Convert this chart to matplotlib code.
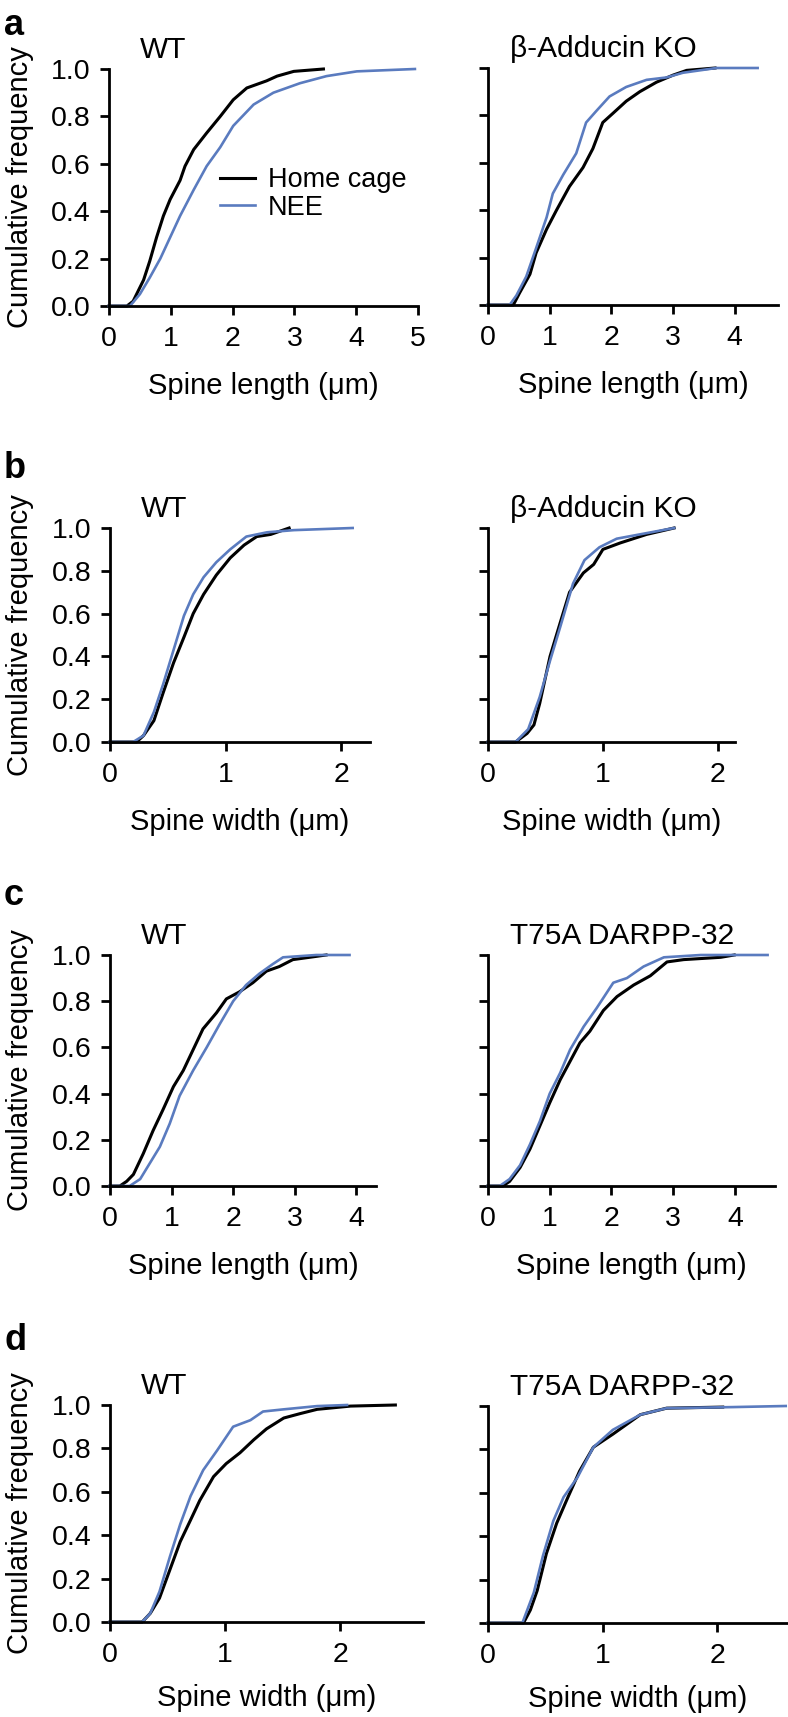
import matplotlib.pyplot as plt

plt.rcParams['font.family'] = ['Liberation Sans', 'DejaVu Sans']
plt.rcParams['font.size'] = 20

W, H = 788, 1717
BLACK = '#000000'
BLUE = '#5a7bbf'

# a: spine length, WT vs beta-adducin KO
a_wt_home_x = [0, 0.29, 0.39, 0.56, 0.66, 0.77, 0.88, 0.99, 1.15, 1.23, 1.37, 1.58, 1.80, 2.01, 2.23, 2.55, 2.72, 2.99, 3.47]
a_wt_home_y = [0, 0, 0.02, 0.11, 0.19, 0.29, 0.38, 0.45, 0.53, 0.59, 0.66, 0.73, 0.80, 0.87, 0.92, 0.95, 0.97, 0.99, 1.0]
a_wt_nee_x = [0, 0.34, 0.50, 0.66, 0.83, 0.99, 1.15, 1.37, 1.58, 1.80, 2.01, 2.34, 2.66, 3.09, 3.52, 4.01, 4.95]
a_wt_nee_y = [0, 0, 0.05, 0.12, 0.20, 0.29, 0.38, 0.49, 0.59, 0.67, 0.76, 0.85, 0.90, 0.94, 0.97, 0.99, 1.0]
a_ko_home_x = [0, 0.41, 0.51, 0.68, 0.78, 0.95, 1.11, 1.32, 1.54, 1.70, 1.86, 2.03, 2.24, 2.46, 2.73, 3.0, 3.22, 3.68]
a_ko_home_y = [0, 0, 0.05, 0.13, 0.22, 0.32, 0.40, 0.50, 0.58, 0.66, 0.77, 0.81, 0.86, 0.90, 0.94, 0.97, 0.99, 1.0]
a_ko_nee_x = [0, 0.35, 0.46, 0.62, 0.78, 0.95, 1.05, 1.22, 1.43, 1.59, 1.76, 1.97, 2.24, 2.57, 2.89, 3.16, 3.70, 4.37]
a_ko_nee_y = [0, 0, 0.04, 0.12, 0.24, 0.37, 0.47, 0.55, 0.64, 0.77, 0.82, 0.88, 0.92, 0.95, 0.96, 0.98, 1.0, 1.0]

# b: spine width, WT vs beta-adducin KO
b_wt_home_x = [0, 0.23, 0.29, 0.38, 0.46, 0.55, 0.64, 0.72, 0.81, 0.92, 1.04, 1.16, 1.27, 1.39, 1.55]
b_wt_home_y = [0, 0, 0.03, 0.10, 0.23, 0.37, 0.49, 0.60, 0.69, 0.78, 0.86, 0.92, 0.96, 0.97, 1.0]
b_wt_nee_x = [0, 0.20, 0.29, 0.38, 0.46, 0.55, 0.64, 0.72, 0.81, 0.92, 1.04, 1.18, 1.36, 1.59, 2.10]
b_wt_nee_y = [0, 0, 0.03, 0.14, 0.27, 0.43, 0.59, 0.69, 0.77, 0.84, 0.90, 0.96, 0.98, 0.99, 1.0]
b_ko_home_x = [0, 0.24, 0.34, 0.40, 0.45, 0.54, 0.63, 0.71, 0.83, 0.92, 1.0, 1.15, 1.38, 1.62]
b_ko_home_y = [0, 0, 0.04, 0.08, 0.18, 0.40, 0.56, 0.70, 0.79, 0.83, 0.90, 0.93, 0.97, 1.0]
b_ko_nee_x = [0, 0.24, 0.35, 0.45, 0.54, 0.63, 0.74, 0.84, 0.97, 1.12, 1.32, 1.62]
b_ko_nee_y = [0, 0, 0.06, 0.21, 0.38, 0.54, 0.74, 0.85, 0.91, 0.95, 0.97, 1.0]

# c: spine length, WT vs T75A DARPP-32
c_wt_home_x = [0, 0.16, 0.27, 0.38, 0.54, 0.70, 0.86, 1.03, 1.19, 1.35, 1.51, 1.73, 1.89, 2.10, 2.32, 2.54, 2.75, 2.97, 3.24, 3.51]
c_wt_home_y = [0, 0, 0.02, 0.05, 0.14, 0.24, 0.33, 0.43, 0.50, 0.59, 0.68, 0.75, 0.81, 0.84, 0.88, 0.93, 0.95, 0.98, 0.99, 1.0]
c_wt_nee_x = [0, 0.32, 0.49, 0.65, 0.81, 0.97, 1.13, 1.35, 1.57, 1.78, 2.0, 2.21, 2.43, 2.64, 2.81, 3.35, 3.89]
c_wt_nee_y = [0, 0, 0.03, 0.10, 0.17, 0.27, 0.39, 0.50, 0.60, 0.70, 0.80, 0.87, 0.92, 0.96, 0.99, 1.0, 1.0]
c_t75_home_x = [0, 0.24, 0.35, 0.52, 0.68, 0.84, 1.0, 1.17, 1.33, 1.49, 1.65, 1.87, 2.09, 2.36, 2.63, 2.90, 3.17, 3.77, 3.99]
c_t75_home_y = [0, 0, 0.02, 0.08, 0.16, 0.26, 0.36, 0.46, 0.54, 0.62, 0.67, 0.76, 0.82, 0.87, 0.91, 0.97, 0.98, 0.99, 1.0]
c_t75_nee_x = [0, 0.19, 0.35, 0.52, 0.68, 0.84, 1.0, 1.17, 1.33, 1.55, 1.76, 2.03, 2.25, 2.52, 2.85, 3.45, 4.53]
c_t75_nee_y = [0, 0, 0.03, 0.09, 0.18, 0.28, 0.40, 0.49, 0.59, 0.69, 0.77, 0.88, 0.90, 0.95, 0.99, 1.0, 1.0]

# d: spine width, WT vs T75A DARPP-32
d_wt_home_x = [0, 0.28, 0.35, 0.43, 0.52, 0.61, 0.70, 0.78, 0.90, 1.01, 1.13, 1.25, 1.36, 1.51, 1.65, 1.80, 2.09, 2.48]
d_wt_home_y = [0, 0, 0.04, 0.11, 0.24, 0.37, 0.47, 0.56, 0.67, 0.73, 0.78, 0.84, 0.89, 0.94, 0.96, 0.98, 0.995, 1.0]
d_wt_nee_x = [0, 0.28, 0.35, 0.43, 0.52, 0.61, 0.70, 0.81, 0.93, 1.07, 1.22, 1.33, 1.51, 1.80, 2.06]
d_wt_nee_y = [0, 0, 0.04, 0.14, 0.30, 0.45, 0.58, 0.70, 0.79, 0.90, 0.93, 0.97, 0.98, 0.995, 1.0]
d_t75_home_x = [0, 0.31, 0.37, 0.43, 0.51, 0.60, 0.69, 0.80, 0.92, 1.09, 1.33, 1.56, 2.05]
d_t75_home_y = [0, 0, 0.06, 0.15, 0.32, 0.46, 0.57, 0.70, 0.81, 0.87, 0.96, 0.99, 0.995]
d_t75_nee_x = [0, 0.30, 0.40, 0.48, 0.57, 0.66, 0.78, 0.92, 1.09, 1.33, 1.56, 2.14, 2.60]
d_t75_nee_y = [0, 0, 0.14, 0.31, 0.47, 0.58, 0.67, 0.81, 0.89, 0.96, 0.99, 0.995, 1.0]

y_ticks = [0, 0.2, 0.4, 0.6, 0.8, 1.0]
y_ticklabels = ['0.0', '0.2', '0.4', '0.6', '0.8', '1.0']

fig = plt.figure(figsize=(W / 100, H / 100), dpi=100)


def panel(x0, x1, top, bottom, xmax, xticks, home, nee, title, xlabel, left, label_gap=66):
    w, h = x1 - x0, bottom - top
    ax = fig.add_axes([x0 / W, 1 - bottom / H, w / W, h / H])
    ax.plot(home[0], home[1], color=BLACK, lw=2.2, clip_on=False, label='Home cage')
    ax.plot(nee[0], nee[1], color=BLUE, lw=1.9, clip_on=False, label='NEE')
    ax.set_xlim(0, xmax)
    ax.set_ylim(0, 1)
    ax.set_xticks(xticks)
    ax.set_yticks(y_ticks)
    for s in ['top', 'right']:
        ax.spines[s].set_visible(False)
    for s in ['left', 'bottom']:
        ax.spines[s].set_linewidth(2)
    ax.tick_params(direction='out', length=6.5, width=2, labelsize=20.5)
    ax.tick_params(axis='x', pad=8)
    ax.tick_params(axis='y', pad=7)
    if left:
        ax.set_yticklabels(y_ticklabels)
        ax.set_ylabel('Cumulative frequency', fontsize=21)
        ax.yaxis.set_label_coords((34 - x0) / w, 0.5)
    else:
        ax.set_yticklabels([])
    ax.set_xlabel(xlabel, fontsize=21)
    ax.xaxis.set_label_coords(0.5, -label_gap / h)
    tx = x0 + (31 if left else 22)
    fig.text(tx / W, 1 - (top - 11) / H, title, fontsize=21.5, ha='left', va='baseline')
    return ax


length_lbl = 'Spine length (\u03bcm)'
width_lbl = 'Spine width (\u03bcm)'

ax = panel(109, 418, 69, 306, 5, range(6), (a_wt_home_x, a_wt_home_y), (a_wt_nee_x, a_wt_nee_y),
           'WT', length_lbl, True)
ax.legend(loc='upper left', bbox_to_anchor=(0.36, 0.585), frameon=False, borderpad=0,
          borderaxespad=0, handlelength=1.3, handletextpad=0.45, labelspacing=0.05, fontsize=19.5)
panel(488, 778, 68, 305, 4.7, range(5), (a_ko_home_x, a_ko_home_y), (a_ko_nee_x, a_ko_nee_y),
      '\u03b2-Adducin KO', length_lbl, False)

panel(110, 370, 528, 742, 2.25, range(3), (b_wt_home_x, b_wt_home_y), (b_wt_nee_x, b_wt_nee_y),
      'WT', width_lbl, True)
panel(488, 735, 528, 742, 2.15, range(3), (b_ko_home_x, b_ko_home_y), (b_ko_nee_x, b_ko_nee_y),
      '\u03b2-Adducin KO', width_lbl, False)

panel(110, 376, 955, 1186, 4.32, range(5), (c_wt_home_x, c_wt_home_y), (c_wt_nee_x, c_wt_nee_y),
      'WT', length_lbl, True)
panel(488, 775, 955, 1186, 4.65, range(5), (c_t75_home_x, c_t75_home_y), (c_t75_nee_x, c_t75_nee_y),
      'T75A DARPP-32', length_lbl, False)

panel(110, 423, 1405, 1622, 2.72, range(3), (d_wt_home_x, d_wt_home_y), (d_wt_nee_x, d_wt_nee_y),
      'WT', width_lbl, True, label_gap=62)
panel(488, 788, 1406, 1623, 2.62, range(3), (d_t75_home_x, d_t75_home_y), (d_t75_nee_x, d_t75_nee_y),
      'T75A DARPP-32', width_lbl, False, label_gap=62)

# panel letters
for letter, base in [('a', 35), ('b', 478), ('c', 905), ('d', 1350)]:
    fig.text(4 / W, 1 - base / H, letter, fontsize=26, fontweight='bold', ha='left', va='baseline')

fig.savefig('out.png', dpi=100)
